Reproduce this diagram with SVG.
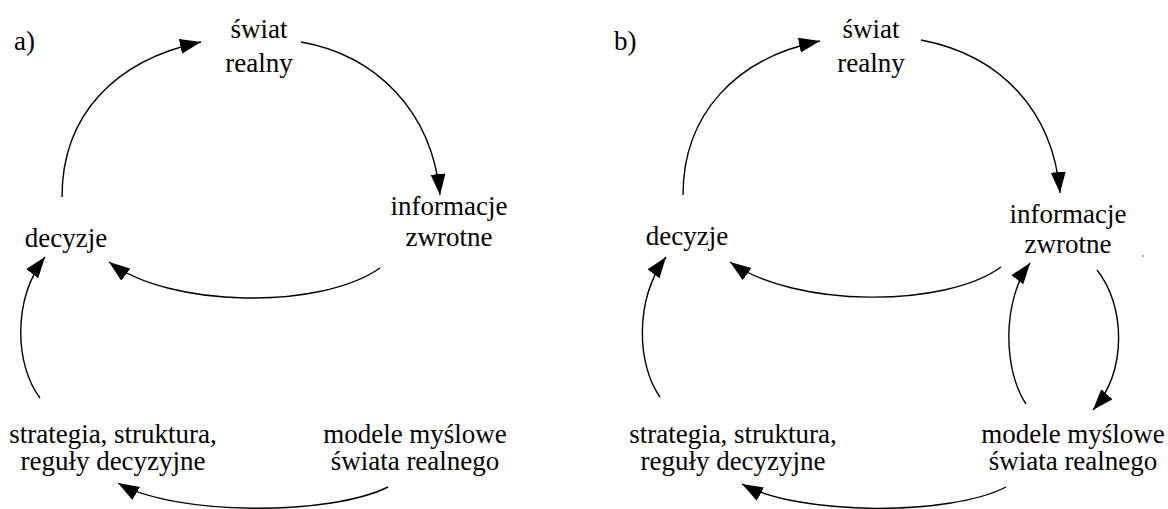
<svg xmlns="http://www.w3.org/2000/svg" width="1168" height="509" viewBox="0 0 1168 509">
<style>
.t{font-family:'Liberation Serif','Times New Roman',serif;font-size:27px;fill:#000;text-anchor:middle}
.lbl{text-anchor:start}
.c{fill:none;stroke:#000;stroke-width:1.4;marker-end:url(#ah)}
</style>
<defs>
<marker id="ah" markerUnits="userSpaceOnUse" markerWidth="22" markerHeight="16" refX="21" refY="7.5" orient="auto">
<path d="M0,0 L21,7.5 L0,15 z" fill="#000"/>
</marker>
</defs>
<rect width="1168" height="509" fill="#fff"/>
<g id="connectors">
<path class="c" d="M62,197 C62,115 115,60 201,42"/>
<path class="c" d="M301,42 C375,55 432,110 440,195"/>
<path class="c" d="M380,268 C320,310 170,308 109,262"/>
<path class="c" d="M40,398 C15,365 12,300 45,257"/>
<path class="c" d="M388,487 C330,516 175,516 118,483"/>
<path class="c" d="M683,195 C683,115 735,58 820,41"/>
<path class="c" d="M921,40 C1000,55 1053,110 1060,193"/>
<path class="c" d="M1001,267 C945,308 795,308 730,262"/>
<path class="c" d="M660,397 C637,365 634,300 666,257"/>
<path class="c" d="M1006,487 C950,516 800,516 742,484"/>
<path class="c" d="M1026,404 C1003,370 1002,300 1030,263"/>
<path class="c" d="M1097,270 C1125,305 1128,370 1093,410"/>
</g>
<g id="label-a"><text class="t lbl" x="14" y="50">a)</text></g>
<g id="a-swiat"><text class="t" x="259" y="38">świat</text><text class="t" x="259" y="72">realny</text></g>
<g id="a-informacje"><text class="t" x="449" y="215">informacje</text><text class="t" x="449" y="246">zwrotne</text></g>
<g id="a-decyzje"><text class="t" x="66" y="247">decyzje</text></g>
<g id="a-strategia"><text class="t" x="113" y="443">strategia, struktura,</text><text class="t" x="113" y="470">reguły decyzyjne</text></g>
<g id="a-modele"><text class="t" x="415" y="443">modele myślowe</text><text class="t" x="415" y="470">świata realnego</text></g>
<g id="label-b"><text class="t lbl" x="614" y="50">b)</text></g>
<g id="b-swiat"><text class="t" x="871" y="38">świat</text><text class="t" x="871" y="72">realny</text></g>
<g id="b-informacje"><text class="t" x="1068" y="223">informacje</text><text class="t" x="1068" y="253">zwrotne</text></g>
<g id="b-decyzje"><text class="t" x="687" y="245">decyzje</text></g>
<g id="b-strategia"><text class="t" x="733" y="443">strategia, struktura,</text><text class="t" x="733" y="470">reguły decyzyjne</text></g>
<g id="b-modele"><text class="t" x="1073" y="443">modele myślowe</text><text class="t" x="1073" y="470">świata realnego</text></g>
<circle cx="1143" cy="256" r="0.8" fill="#555"/>
</svg>
